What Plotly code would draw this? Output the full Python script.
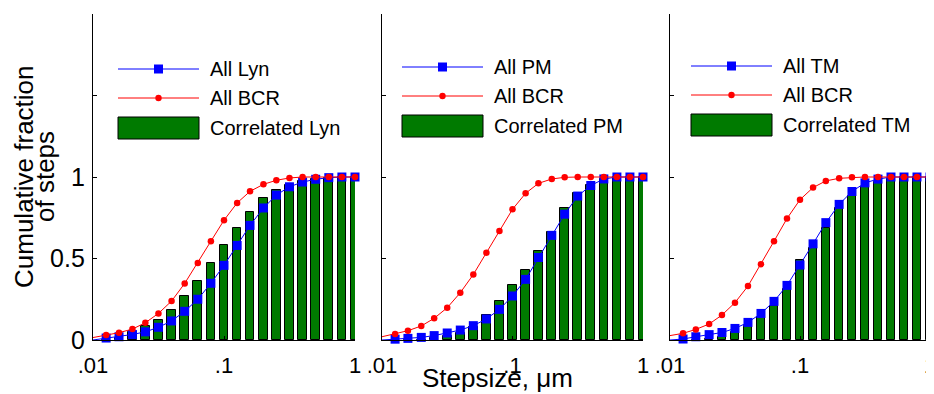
import numpy as np
import plotly.graph_objects as go

# ---------------- data ----------------
step_um = [0.01, 0.0126, 0.0158, 0.0200, 0.0251, 0.0316, 0.0398, 0.0501, 0.0631, 0.0794,
           0.100, 0.126, 0.158, 0.200, 0.251, 0.316, 0.398, 0.501, 0.631, 0.794, 1.00]
x_tick_vals = [0.01, 0.1, 1.0]
x_tick_text = [".01", ".1", "1"]
y_tick_vals = [0, 0.5, 1, 1.5]
y_tick_text = ["0", "0.5", "1", ""]

all_lyn = [0.0, 0.012, 0.02, 0.034, 0.05, 0.078, 0.117, 0.176, 0.25, 0.348, 0.458,
           0.58, 0.703, 0.81, 0.889, 0.94, 0.969, 0.986, 0.996, 1.0, 1.0]
bcr_lyn = [0.015, 0.03, 0.045, 0.067, 0.106, 0.163, 0.239, 0.347, 0.473, 0.606, 0.735,
           0.841, 0.912, 0.955, 0.98, 0.994, 1.0, 1.0, 1.0, 1.0, 1.0]
corr_lyn = [0.0, 0.015, 0.05, 0.087, 0.122, 0.184, 0.27, 0.361, 0.474, 0.58,
            0.688, 0.785, 0.871, 0.922, 0.953, 0.976, 0.988, 0.996, 1.0, 1.0]

all_pm = [0.0, 0.005, 0.01, 0.016, 0.027, 0.043, 0.061, 0.088, 0.129, 0.188, 0.27,
          0.372, 0.506, 0.642, 0.772, 0.883, 0.948, 0.988, 1.0, 1.0, 1.0]
bcr_pm = [0.02, 0.037, 0.057, 0.086, 0.133, 0.198, 0.29, 0.402, 0.535, 0.669, 0.802,
          0.9, 0.961, 0.988, 0.998, 1.0, 1.0, 1.0, 1.0, 1.0, 1.0]
corr_pm = [0.0, 0.0, 0.002, 0.01, 0.025, 0.041, 0.078, 0.153, 0.241, 0.337,
           0.43, 0.548, 0.665, 0.808, 0.904, 0.951, 0.986, 1.0, 1.0, 1.0]

all_tm = [0.0, 0.006, 0.02, 0.033, 0.046, 0.071, 0.108, 0.163, 0.237, 0.335, 0.46,
          0.59, 0.72, 0.832, 0.911, 0.964, 0.987, 1.0, 1.0, 1.0, 1.0]
bcr_tm = [0.027, 0.041, 0.065, 0.098, 0.153, 0.229, 0.331, 0.465, 0.606, 0.745, 0.861,
          0.935, 0.976, 0.992, 0.998, 1.0, 1.0, 1.0, 1.0, 1.0, 1.0]
corr_tm = [0.0, 0.0, 0.005, 0.02, 0.047, 0.086, 0.139, 0.21, 0.313, 0.49,
           0.565, 0.69, 0.808, 0.883, 0.941, 0.971, 0.99, 1.0, 1.0, 1.0]

panel_names = ["Lyn", "PM", "TM"]
panel_all = [all_lyn, all_pm, all_tm]
panel_bcr = [bcr_lyn, bcr_pm, bcr_tm]
panel_corr = [corr_lyn, corr_pm, corr_tm]

# ---------------- layout geometry (screen pixels) ----------------
PAGE_OFF = 8                      # browser body margin around the figure
W, H = 934 - PAGE_OFF, 394 - PAGE_OFF
PLOT_TOP, PLOT_BOT = 14, 340
panels_px = [(93, 355), (382, 643), (670, 930)]
legend_px = [(25, 69), (20, 67), (21, 66)]  # (offset from axis, first row y)


def px_x(px):
    return (px - PAGE_OFF) / W


def px_y(py):
    return (H - (py - PAGE_OFF)) / H


FONT = "Liberation Sans, Arial, Helvetica, sans-serif"
GREEN = "#007a00"
BLUE = "#0000ff"
RED = "#ff0000"

logx = np.log10(step_um)
bar_x = logx[1:]
tick_pos = np.log10(x_tick_vals)

fig = go.Figure()
marker_sizes_sq = [0] + [9] * (len(step_um) - 1)
marker_sizes_dot = [0] + [6.5] * (len(step_um) - 1)

for i in range(3):
    xa = "x" if i == 0 else f"x{i+1}"
    ya = "y" if i == 0 else f"y{i+1}"
    fig.add_trace(go.Bar(x=bar_x, y=panel_corr[i], width=0.066, xaxis=xa, yaxis=ya,
                         marker=dict(color=GREEN, line=dict(color="black", width=1)),
                         name="Correlated " + panel_names[i], showlegend=False))
    fig.add_trace(go.Scatter(x=logx, y=panel_all[i], xaxis=xa, yaxis=ya, mode="lines+markers",
                             line=dict(color=BLUE, width=1),
                             marker=dict(symbol="square", size=marker_sizes_sq, color=BLUE,
                                         opacity=1, line=dict(width=0)),
                             cliponaxis=False, name="All " + panel_names[i], showlegend=False))
    fig.add_trace(go.Scatter(x=logx, y=panel_bcr[i], xaxis=xa, yaxis=ya, mode="lines+markers",
                             line=dict(color=RED, width=1),
                             marker=dict(symbol="circle", size=marker_sizes_dot, color=RED,
                                         opacity=1, line=dict(width=0)),
                             cliponaxis=False, name="All BCR", showlegend=False))

layout = dict(width=W, height=H, margin=dict(l=0, r=0, t=0, b=0, autoexpand=False),
              template="none",
              paper_bgcolor="white", plot_bgcolor="white", showlegend=False,
              font=dict(family=FONT, color="black"), bargap=0)

ydom = [px_y(PLOT_BOT), px_y(PLOT_TOP)]
for i, (x0, x1) in enumerate(panels_px):
    sx = "" if i == 0 else str(i + 1)
    layout["xaxis" + sx] = dict(domain=[px_x(x0), min(px_x(x1), 1.0)], range=[-2, 0], showgrid=False,
                                zeroline=False, showline=True, linecolor="black", linewidth=1.3,
                                ticks="inside", ticklen=4, tickcolor="black", automargin=False,
                                tickvals=list(tick_pos), ticktext=x_tick_text,
                                ticklabeloverflow="allow", ticklabelstandoff=5,
                                tickfont=dict(size=22, family=FONT), anchor="y" + sx)
    layout["yaxis" + sx] = dict(domain=ydom, range=[0, 2], showgrid=False, zeroline=False,
                                showline=True, linecolor="black", linewidth=1.3,
                                ticks="inside", ticklen=4, tickcolor="black", automargin=False,
                                tickvals=y_tick_vals,
                                ticktext=y_tick_text if i == 0 else [""] * 4,
                                tickfont=dict(size=25, family=FONT), anchor="x" + sx,
                                ticklabeloverflow="allow", ticklabelstandoff=2)

shapes = []
annotations = []
for i, (x0, x1) in enumerate(panels_px):
    off, ly = legend_px[i]
    pw = x1 - x0
    ph = PLOT_BOT - PLOT_TOP
    sx = "" if i == 0 else str(i + 1)
    xr, yr = "x" + sx + " domain", "y" + sx + " domain"

    def fx(px):
        return (px - x0) / pw

    def fy(py):
        return (PLOT_BOT - py) / ph

    lx0, lx1 = x0 + off, x0 + off + 81
    mx = (lx0 + lx1) / 2
    tx = lx1 + 9
    rows = [ly, ly + 29, ly + 59]
    shapes.append(dict(type="line", xref=xr, yref=yr, x0=fx(lx0), x1=fx(lx1), y0=fy(rows[0]), y1=fy(rows[0]),
                       line=dict(color=BLUE, width=1)))
    shapes.append(dict(type="rect", xref=xr, yref=yr, x0=fx(mx - 4.5), x1=fx(mx + 4.5),
                       y0=fy(rows[0] + 4.5), y1=fy(rows[0] - 4.5), fillcolor=BLUE, line=dict(width=0)))
    shapes.append(dict(type="line", xref=xr, yref=yr, x0=fx(lx0), x1=fx(lx1), y0=fy(rows[1]), y1=fy(rows[1]),
                       line=dict(color=RED, width=1)))
    shapes.append(dict(type="circle", xref=xr, yref=yr, x0=fx(mx - 3.2), x1=fx(mx + 3.2),
                       y0=fy(rows[1] + 3.2), y1=fy(rows[1] - 3.2), fillcolor=RED, line=dict(width=0)))
    shapes.append(dict(type="rect", xref=xr, yref=yr, x0=fx(lx0), x1=fx(lx1),
                       y0=fy(rows[2] + 11), y1=fy(rows[2] - 11), fillcolor=GREEN,
                       line=dict(color="black", width=1)))
    labels = ["All " + panel_names[i], "All BCR", "Correlated " + panel_names[i]]
    for r, lab in zip(rows, labels):
        annotations.append(dict(xref=xr, yref=yr, x=fx(tx), y=fy(r), text=lab, showarrow=False,
                                xanchor="left", yanchor="middle", font=dict(size=20, family=FONT)))

# axis titles
annotations.append(dict(xref="paper", yref="paper", x=px_x(24), y=px_y(177), text="Cumulative fraction",
                        textangle=-90, showarrow=False, xanchor="center", yanchor="middle",
                        font=dict(size=26, family=FONT)))
annotations.append(dict(xref="paper", yref="paper", x=px_x(45), y=px_y(177), text="of steps",
                        textangle=-90, showarrow=False, xanchor="center", yanchor="middle",
                        font=dict(size=26, family=FONT)))
annotations.append(dict(xref="paper", yref="paper", x=px_x(497), y=px_y(378), text="Stepsize, \u03bcm",
                        showarrow=False, xanchor="center", yanchor="middle",
                        font=dict(size=26, family=FONT)))

layout["shapes"] = shapes
layout["annotations"] = annotations
fig.update_layout(**layout)
fig.write_html("out.html")
